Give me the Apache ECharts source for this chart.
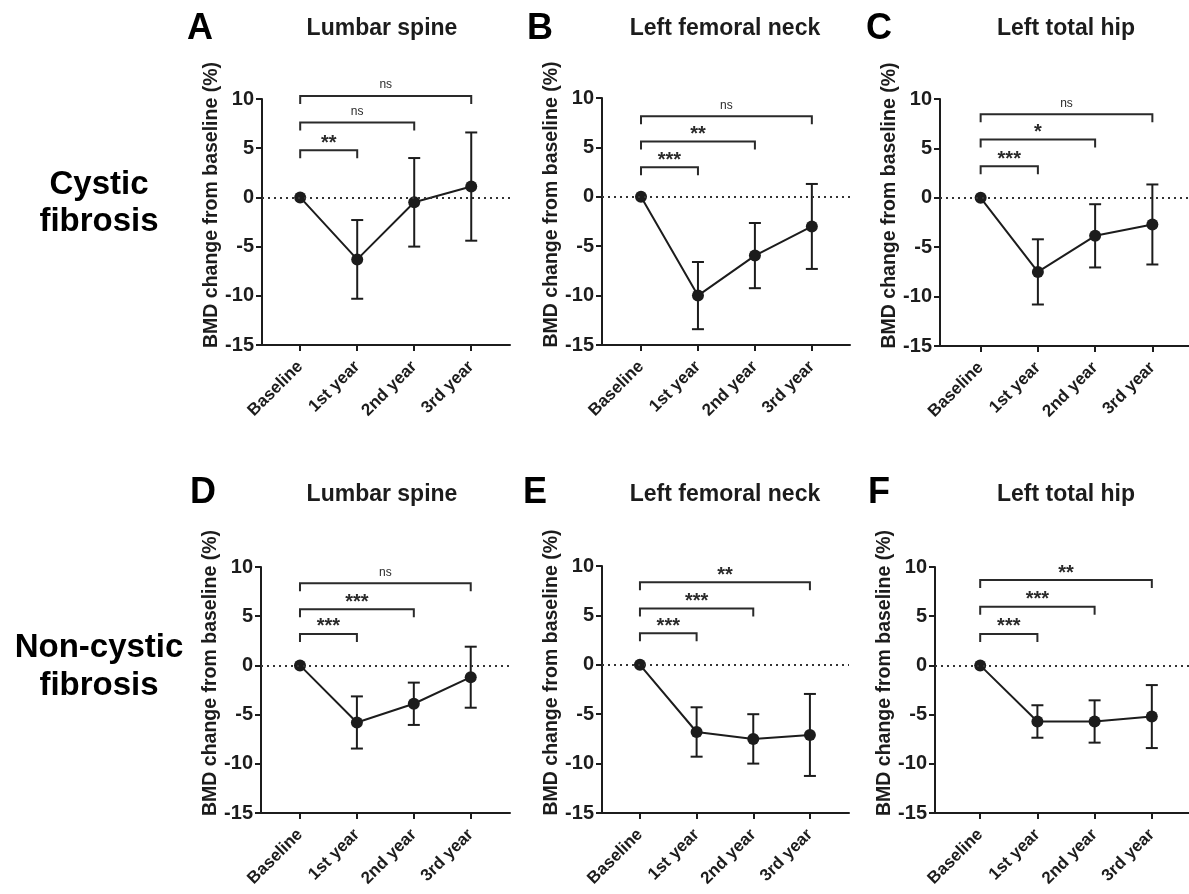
<!DOCTYPE html>
<html>
<head>
<meta charset="utf-8">
<style>html,body{margin:0;padding:0;background:#fff}#chart{width:1189px;height:894px}</style>
<script src="https://cdn.jsdelivr.net/npm/echarts@6/dist/echarts.min.js"></script>
</head>
<body>
<div id="chart"></div>
<script>
// ---------------- data ----------------
const categories = ['Baseline', '1st year', '2nd year', '3rd year'];
const panelLetters = ['A', 'B', 'C', 'D', 'E', 'F'];
const panelTitles = ['Lumbar spine', 'Left femoral neck', 'Left total hip', 'Lumbar spine', 'Left femoral neck', 'Left total hip'];
const rowLabels = [['Cystic', 'fibrosis'], ['Non-cystic', 'fibrosis']];
const yAxisName = 'BMD change from baseline (%)';
const yTicks = [-15, -10, -5, 0, 5, 10];

// mean BMD change (%) and error (SD) per time point
const meanA = [0, -6.3, -0.5, 1.1];   const errA = [0, 4.0, 4.5, 5.5];
const meanB = [0, -10.0, -5.95, -3.0]; const errB = [0, 3.4, 3.3, 4.3];
const meanC = [0, -7.5, -3.85, -2.7];  const errC = [0, 3.3, 3.2, 4.05];
const meanD = [0, -5.8, -3.9, -1.2];   const errD = [0, 2.65, 2.15, 3.1];
const meanE = [0, -6.8, -7.5, -7.1];   const errE = [0, 2.5, 2.5, 4.15];
const meanF = [0, -5.7, -5.7, -5.2];   const errF = [0, 1.65, 2.15, 3.2];

// significance brackets (Baseline vs 1st, 2nd, 3rd year): height and label
const bracketA = [4.8, 7.6, 10.3];  const sigA = ['**', 'ns', 'ns'];
const bracketB = [3.0, 5.6, 8.15];  const sigB = ['***', '**', 'ns'];
const bracketC = [3.2, 5.9, 8.45];  const sigC = ['***', '*', 'ns'];
const bracketD = [3.2, 5.7, 8.35];  const sigD = ['***', '***', 'ns'];
const bracketE = [3.2, 5.7, 8.35];  const sigE = ['***', '***', '**'];
const bracketF = [3.2, 5.97, 8.67]; const sigF = ['***', '***', '**'];

const means = [meanA, meanB, meanC, meanD, meanE, meanF];
const errs = [errA, errB, errC, errD, errE, errF];
const brackets = [bracketA, bracketB, bracketC, bracketD, bracketE, bracketF];
const sigs = [sigA, sigB, sigC, sigD, sigE, sigF];

// ---------------- layout ----------------
const layout = [
  {left: 262, top: 99,  width: 248, height: 246, xMin: -0.67,  xMax: 3.68},
  {left: 602, top: 98,  width: 248, height: 247, xMin: -0.685, xMax: 3.67},
  {left: 940, top: 99,  width: 249, height: 247, xMin: -0.71,  xMax: 3.64},
  {left: 261, top: 567, width: 249, height: 246, xMin: -0.685, xMax: 3.69},
  {left: 602, top: 566, width: 247, height: 247, xMin: -0.67,  xMax: 3.69},
  {left: 935, top: 567, width: 254, height: 246, xMin: -0.79,  xMax: 3.65}
];
const letterPos = [[187, 29], [527, 29], [866, 29], [190, 493], [523, 493], [868, 493]];
const titlePos = [[382, 29], [725, 29], [1066, 29], [382, 495], [725, 495], [1066, 495]];
const rowLabelPos = [[99, 185, 222], [99, 648, 686]];

const FONT = '"Liberation Sans", Arial, Helvetica, sans-serif';
const INK = '#1c1c1c';

const grids = [], xAxes = [], yAxes = [], series = [], graphics = [];

layout.forEach((L, i) => {
  grids.push({left: L.left, top: L.top, width: L.width, height: L.height, containLabel: false});
  xAxes.push({
    type: 'value', gridIndex: i, min: L.xMin, max: L.xMax,
    axisLine: {show: true, onZero: false, lineStyle: {color: INK, width: 2}},
    axisTick: {show: true, length: 6, lineStyle: {color: INK, width: 2}, customValues: [0, 1, 2, 3]},
    axisLabel: {
      customValues: [0, 1, 2, 3], rotate: 45, margin: 19,
      fontFamily: FONT, fontWeight: 'bold', fontSize: 17, color: INK,
      formatter: v => categories[Math.round(v)]
    },
    splitLine: {show: false}
  });
  yAxes.push({
    type: 'value', gridIndex: i, min: yTicks[0], max: yTicks[yTicks.length - 1], interval: 5,
    axisLine: {show: true, onZero: false, lineStyle: {color: INK, width: 2}},
    axisTick: {show: true, length: 6, lineStyle: {color: INK, width: 2}},
    axisLabel: {margin: 8, fontFamily: FONT, fontWeight: 'bold', fontSize: 20, color: INK},
    splitLine: {show: false}
  });

  const m = means[i], e = errs[i];
  // error bars
  const errData = [];
  m.forEach((v, k) => { if (e[k] > 0) errData.push([k, v - e[k], v + e[k]]); });
  series.push({
    type: 'custom', xAxisIndex: i, yAxisIndex: i, z: 3, clip: false,
    data: errData,
    renderItem: (params, api) => {
      const x = api.value(0);
      const lo = api.coord([x, api.value(1)]);
      const hi = api.coord([x, api.value(2)]);
      const w = 6;
      const st = {stroke: INK, lineWidth: 2};
      return {type: 'group', children: [
        {type: 'line', shape: {x1: lo[0], y1: lo[1], x2: hi[0], y2: hi[1]}, style: st},
        {type: 'line', shape: {x1: lo[0] - w, y1: lo[1], x2: lo[0] + w, y2: lo[1]}, style: st},
        {type: 'line', shape: {x1: hi[0] - w, y1: hi[1], x2: hi[0] + w, y2: hi[1]}, style: st}
      ]};
    }
  });
  // mean line
  series.push({
    type: 'line', xAxisIndex: i, yAxisIndex: i, z: 4,
    data: m.map((v, k) => [k, v]),
    symbol: 'circle', symbolSize: 12,
    itemStyle: {color: INK}, lineStyle: {color: INK, width: 2},
    markLine: {
      silent: true, symbol: 'none', label: {show: false},
      lineStyle: {type: [2, 4], color: '#333', width: 2},
      data: [{yAxis: 0}]
    }
  });
  // significance brackets
  const b = brackets[i], s = sigs[i];
  series.push({
    type: 'custom', xAxisIndex: i, yAxisIndex: i, z: 2, clip: false,
    data: b.map((h, k) => [k + 1, h]),
    renderItem: (params, api) => {
      const p0 = api.coord([0, api.value(1)]);
      const p1 = api.coord([api.value(0), api.value(1)]);
      const leg = 8;
      const lbl = s[params.dataIndex];
      const isNs = lbl === 'ns';
      return {type: 'group', children: [
        {type: 'polyline', shape: {points: [[p0[0], p0[1] + leg], [p0[0], p0[1]], [p1[0], p1[1]], [p1[0], p1[1] + leg]]},
          style: {stroke: '#2a2a2a', lineWidth: 2, fill: null}},
        {type: 'text', x: (p0[0] + p1[0]) / 2, y: p0[1] - (isNs ? 11 : 7),
          style: {text: lbl, fontFamily: FONT, fontSize: isNs ? 12 : 20, fontWeight: isNs ? 'normal' : 'bold',
            fill: '#2a2a2a', align: 'center', verticalAlign: 'middle'}}
      ]};
    }
  });

  // y-axis title
  graphics.push({type: 'text', x: L.left - 50, y: L.top + L.height / 2 - 17, rotation: Math.PI / 2,
    style: {text: yAxisName, fontFamily: FONT, fontWeight: 'bold', fontSize: 19.5, fill: INK, align: 'center', verticalAlign: 'middle'}});
  graphics.push({type: 'text', left: letterPos[i][0], top: letterPos[i][1] - 18,
    style: {text: panelLetters[i], fontFamily: FONT, fontWeight: 'bold', fontSize: 36, fill: '#000'}});
  graphics.push({type: 'text', x: titlePos[i][0], y: titlePos[i][1],
    style: {text: panelTitles[i], fontFamily: FONT, fontWeight: 'bold', fontSize: 23, fill: INK, align: 'center', verticalAlign: 'middle'}});
});

rowLabelPos.forEach((p, r) => {
  graphics.push({type: 'text', x: p[0], y: p[1],
    style: {text: rowLabels[r][0], fontFamily: FONT, fontWeight: 'bold', fontSize: 33, fill: '#000', align: 'center', verticalAlign: 'middle'}});
  graphics.push({type: 'text', x: p[0], y: p[2],
    style: {text: rowLabels[r][1], fontFamily: FONT, fontWeight: 'bold', fontSize: 33, fill: '#000', align: 'center', verticalAlign: 'middle'}});
});

const chart = echarts.init(document.getElementById('chart'), null, {renderer: 'canvas'});
chart.setOption({
  backgroundColor: '#fff',
  animation: false,
  grid: grids, xAxis: xAxes, yAxis: yAxes, series: series,
  graphic: graphics
});
</script>
</body>
</html>
